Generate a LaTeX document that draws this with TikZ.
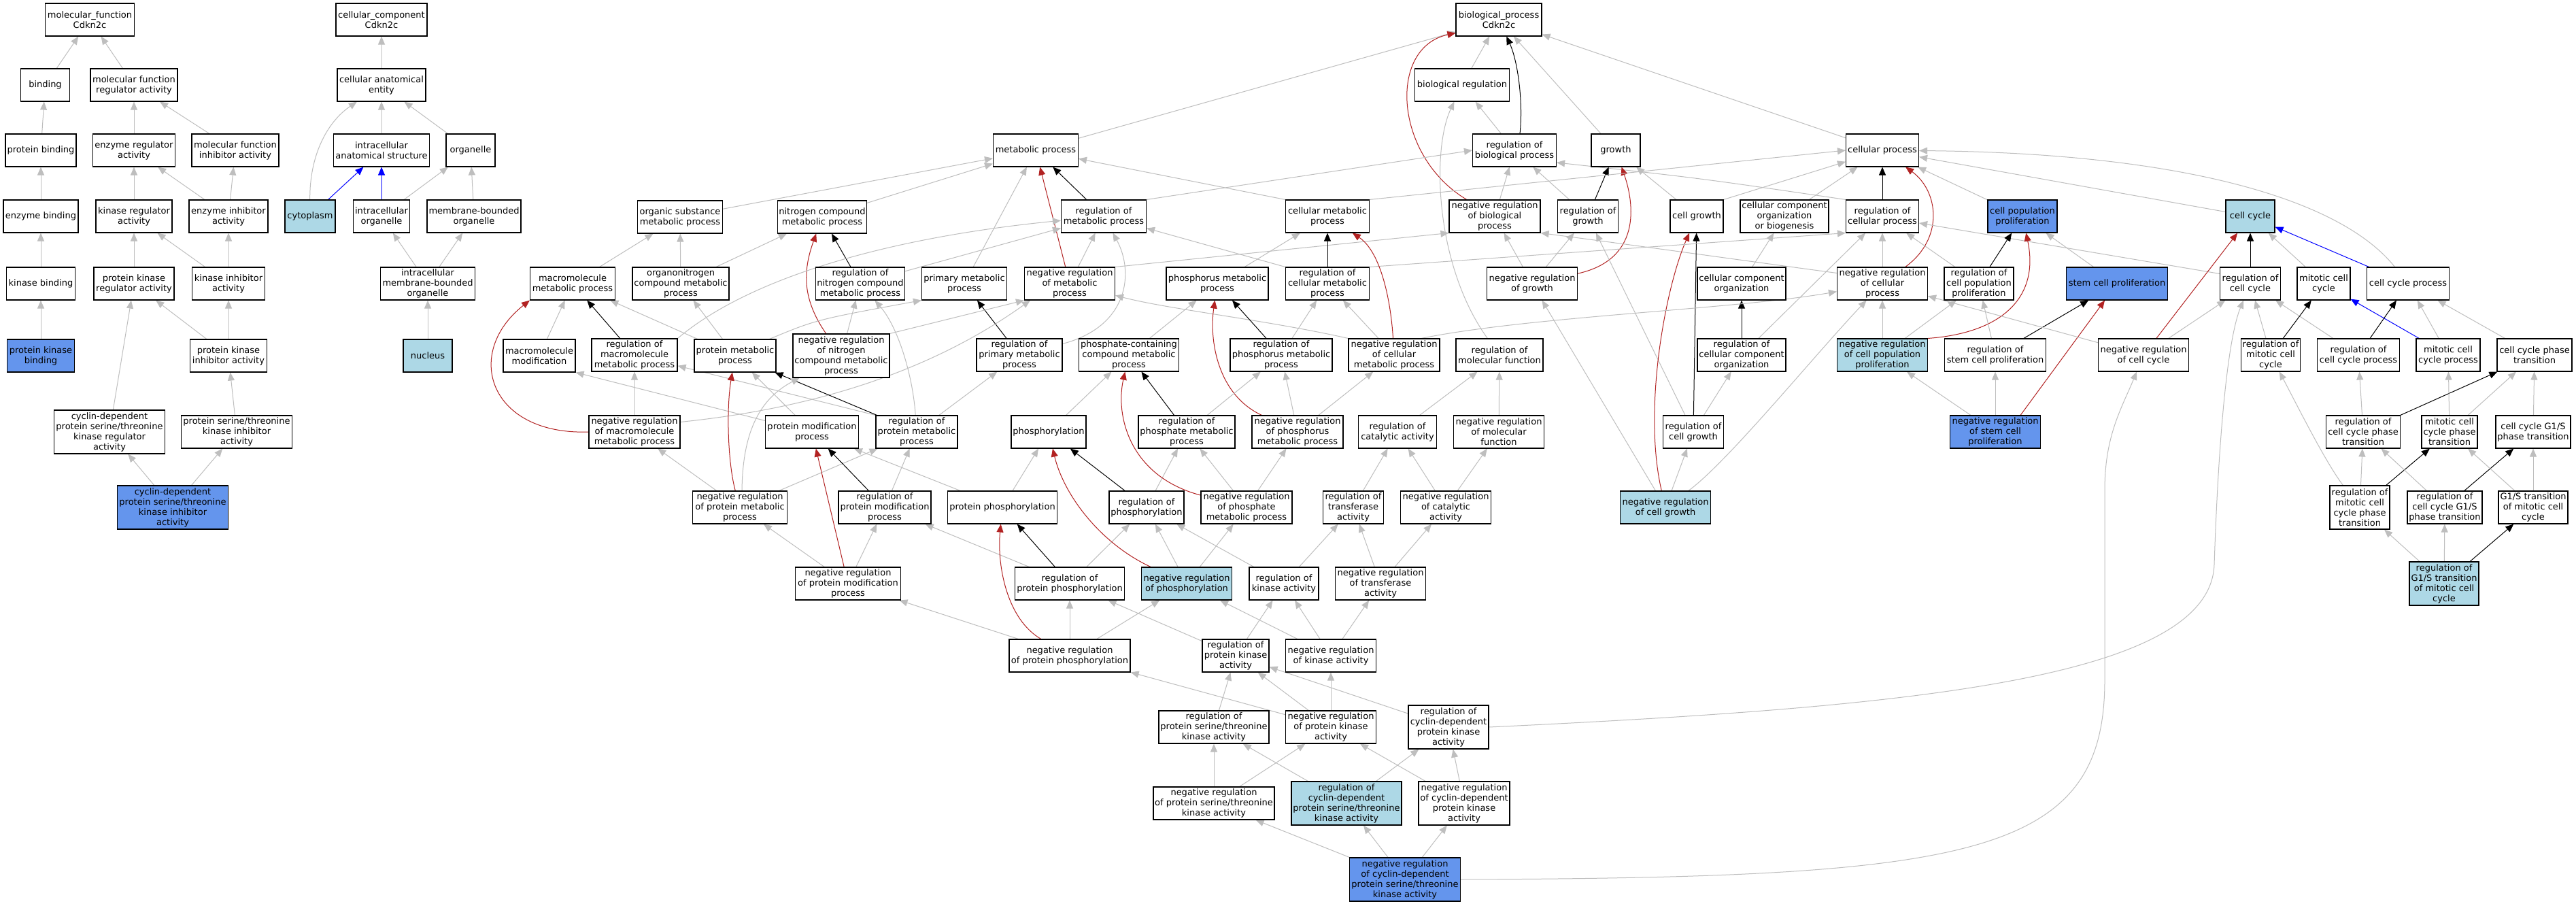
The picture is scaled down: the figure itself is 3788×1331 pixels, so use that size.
\documentclass[tikz,border=0pt]{standalone}
\usepackage{fontspec}
\setmainfont{DejaVu Sans}
\usetikzlibrary{arrows.meta,calc,backgrounds}
\definecolor{lbC}{HTML}{ADD8E6}
\definecolor{cbC}{HTML}{6495ED}
\definecolor{greyC}{HTML}{BEBEBE}
\definecolor{redC}{HTML}{B22222}
\definecolor{blueC}{HTML}{0000FF}
\newcommand\gofont{\fontsize{13pt}{15pt}\selectfont}
\tikzset{
  gobox/.style={draw=black, line width=1.1pt, inner xsep=1pt, inner ysep=1pt, minimum height=48pt, align=center, font=\gofont, fill=white},
  tall/.style={minimum height=64pt},
  lb/.style={fill=lbC},
  cb/.style={fill=cbC},
  edgebase/.style={line width=1pt, -{Triangle[length=12pt,width=10pt]}},
  ge/.style={edgebase, draw=greyC},
  bk/.style={edgebase, draw=black},
  rd/.style={edgebase, draw=redC},
  bl/.style={edgebase, draw=blueC}
}
\begin{document}
\begin{tikzpicture}[x=1pt,y=-1pt]
\useasboundingbox (0,0) rectangle (3788,1331);
% ---------------- molecular function ----------------
\node[gobox, minimum width=131pt] (mfroot) at (132,29) {molecular\_function\\Cdkn2c};
\node[gobox, minimum width=72pt] (binding) at (66.5,125) {binding};
\node[gobox, minimum width=128pt] (mfreg) at (197,125) {molecular function\\regulator activity};
\node[gobox, minimum width=104pt] (protbind) at (60,221) {protein binding};
\node[gobox, minimum width=121pt] (enzreg) at (197,221) {enzyme regulator\\activity};
\node[gobox, minimum width=128pt] (mfinh) at (346,221) {molecular function\\inhibitor activity};
\node[gobox, minimum width=110pt] (enzbind) at (60,318) {enzyme binding};
\node[gobox, minimum width=112pt] (kinreg) at (197,318) {kinase regulator\\activity};
\node[gobox, minimum width=116pt] (enzinh) at (336,318) {enzyme inhibitor\\activity};
\node[gobox, minimum width=101pt] (kinbind) at (60,417) {kinase binding};
\node[gobox, minimum width=118pt] (pkreg) at (197,417) {protein kinase\\regulator activity};
\node[gobox, minimum width=107pt] (kininh) at (336,417) {kinase inhibitor\\activity};
\node[gobox, cb, minimum width=99pt] (pkbind) at (60,523) {protein kinase\\binding};
\node[gobox, minimum width=113pt] (pkinh) at (336,523) {protein kinase\\inhibitor activity};
\node[gobox, tall, minimum width=163pt] (cdkreg) at (161,635) {cyclin-dependent\\protein serine/threonine\\kinase regulator\\activity};
\node[gobox, minimum width=163pt] (pstkinh) at (348,635) {protein serine/threonine\\kinase inhibitor\\activity};
\node[gobox, tall, cb, minimum width=163pt] (cdkinh) at (254,746) {cyclin-dependent\\protein serine/threonine\\kinase inhibitor\\activity};
% ---------------- cellular component ----------------
\node[gobox, minimum width=134pt] (ccroot) at (561,29) {cellular\_component\\Cdkn2c};
\node[gobox, minimum width=130pt] (cae) at (561,125) {cellular anatomical\\entity};
\node[gobox, minimum width=141pt] (ias) at (561,221) {intracellular\\anatomical structure};
\node[gobox, minimum width=72pt] (organelle) at (692,221) {organelle};
\node[gobox, lb, minimum width=74pt] (cytoplasm) at (456,318) {cytoplasm};
\node[gobox, minimum width=83pt] (intorg) at (561,318) {intracellular\\organelle};
\node[gobox, minimum width=138pt] (mbo) at (697,318) {membrane-bounded\\organelle};
\node[gobox, minimum width=139pt] (imbo) at (629,417) {intracellular\\membrane-bounded\\organelle};
\node[gobox, lb, minimum width=72pt] (nucleus) at (629,523) {nucleus};
% ---------------- biological process ----------------
\node[gobox, minimum width=126pt] (bproot) at (2204,29) {biological\_process\\Cdkn2c};
\node[gobox, minimum width=139pt] (bioreg) at (2150,125) {biological regulation};
\node[gobox, minimum width=125pt] (mp) at (1523,221) {metabolic process};
\node[gobox, minimum width=123pt] (rbp) at (2227,221) {regulation of\\biological process};
\node[gobox, minimum width=72pt] (growth) at (2376,221) {growth};
\node[gobox, minimum width=107pt] (cp) at (2768,221) {cellular process};
\node[gobox, minimum width=125pt] (osmp) at (1000,319) {organic substance\\metabolic process};
\node[gobox, minimum width=131pt] (ncmp) at (1209,319) {nitrogen compound\\metabolic process};
\node[gobox, minimum width=125pt] (rmp) at (1623,318) {regulation of\\metabolic process};
\node[gobox, minimum width=123pt] (cmp) at (1952,318) {cellular metabolic\\process};
\node[gobox, minimum width=134pt] (nrbp) at (2198,318) {negative regulation\\of biological\\process};
\node[gobox, minimum width=89pt] (rg) at (2335,318) {regulation of\\growth};
\node[gobox, minimum width=78pt] (cg) at (2495,318) {cell growth};
\node[gobox, minimum width=130pt] (ccob) at (2624,318) {cellular component\\organization\\or biogenesis};
\node[gobox, minimum width=107pt] (rcp) at (2768,318) {regulation of\\cellular process};
\node[gobox, cb, minimum width=102pt] (cpp) at (2974,318) {cell population\\proliferation};
\node[gobox, lb, minimum width=72pt] (ccyc) at (3309,318) {cell cycle};
\node[gobox, minimum width=125pt] (mmp) at (842,417) {macromolecule\\metabolic process};
\node[gobox, minimum width=142pt] (oncmp) at (1001,417) {organonitrogen\\compound metabolic\\process};
\node[gobox, minimum width=131pt] (rncmp) at (1265,417) {regulation of\\nitrogen compound\\metabolic process};
\node[gobox, minimum width=125pt] (pmp) at (1418,417) {primary metabolic\\process};
\node[gobox, minimum width=133pt] (nrmp) at (1573,417) {negative regulation\\of metabolic\\process};
\node[gobox, minimum width=150pt] (phmp) at (1790,417) {phosphorus metabolic\\process};
\node[gobox, minimum width=123pt] (rcmp) at (1952,417) {regulation of\\cellular metabolic\\process};
\node[gobox, minimum width=133pt] (nrg) at (2253,417) {negative regulation\\of growth};
\node[gobox, minimum width=130pt] (cco) at (2561,417) {cellular component\\organization};
\node[gobox, minimum width=133pt] (nrcp) at (2768,417) {negative regulation\\of cellular\\process};
\node[gobox, minimum width=102pt] (rcpp) at (2910,417) {regulation of\\cell population\\proliferation};
\node[gobox, cb, minimum width=149pt] (scp) at (3113,417) {stem cell proliferation};
\node[gobox, minimum width=89pt] (rcc) at (3309,417) {regulation of\\cell cycle};
\node[gobox, minimum width=78pt] (mcc) at (3417,417) {mitotic cell\\cycle};
\node[gobox, minimum width=121pt] (ccp) at (3541,417) {cell cycle process};
\node[gobox, minimum width=106pt] (macmod) at (793,523) {macromolecule\\modification};
\node[gobox, minimum width=126pt] (rmmp) at (933,522) {regulation of\\macromolecule\\metabolic process};
\node[gobox, minimum width=120pt] (prmp) at (1081,523) {protein metabolic\\process};
\node[gobox, tall, minimum width=142pt] (nrncmp) at (1237,523) {negative regulation\\of nitrogen\\compound metabolic\\process};
\node[gobox, minimum width=126pt] (rpmp) at (1499,522) {regulation of\\primary metabolic\\process};
\node[gobox, minimum width=147pt] (pccmp) at (1660,522) {phosphate-containing\\compound metabolic\\process};
\node[gobox, minimum width=150pt] (rphmp) at (1884,522) {regulation of\\phosphorus metabolic\\process};
\node[gobox, minimum width=134pt] (nrcmp) at (2050,522) {negative regulation\\of cellular\\metabolic process};
\node[gobox, minimum width=128pt] (rmf) at (2205,522) {regulation of\\molecular function};
\node[gobox, minimum width=130pt] (rcco) at (2561,522) {regulation of\\cellular component\\organization};
\node[gobox, lb, minimum width=133pt] (nrcpp) at (2768,522) {negative regulation\\of cell population\\proliferation};
\node[gobox, minimum width=149pt] (rscp) at (2934,522) {regulation of\\stem cell proliferation};
\node[gobox, minimum width=133pt] (nrcc) at (3152,522) {negative regulation\\of cell cycle};
\node[gobox, minimum width=87pt] (rmcc) at (3339,522) {regulation of\\mitotic cell\\cycle};
\node[gobox, minimum width=121pt] (rccp) at (3468,522) {regulation of\\cell cycle process};
\node[gobox, minimum width=94pt] (mccp) at (3600,522) {mitotic cell\\cycle process};
\node[gobox, minimum width=110pt] (ccpt) at (3727,522) {cell cycle phase\\transition};
\node[gobox, minimum width=134pt] (nrmmp) at (933,635) {negative regulation\\of macromolecule\\metabolic process};
\node[gobox, minimum width=137pt] (pmop) at (1194,635) {protein modification\\process};
\node[gobox, minimum width=120pt] (rprmp) at (1348,635) {regulation of\\protein metabolic\\process};
\node[gobox, minimum width=110pt] (phos) at (1542,635) {phosphorylation};
\node[gobox, minimum width=142pt] (rpatemp) at (1745,635) {regulation of\\phosphate metabolic\\process};
\node[gobox, minimum width=134pt] (nrphmp) at (1908,635) {negative regulation\\of phosphorus\\metabolic process};
\node[gobox, minimum width=115pt] (rca) at (2055,635) {regulation of\\catalytic activity};
\node[gobox, minimum width=133pt] (nrmf) at (2204,635) {negative regulation\\of molecular\\function};
\node[gobox, minimum width=89pt] (rcg) at (2490,635) {regulation of\\cell growth};
\node[gobox, cb, minimum width=133pt] (nrscp) at (2934,635) {negative regulation\\of stem cell\\proliferation};
\node[gobox, minimum width=109pt] (rccpt) at (3475,635) {regulation of\\cell cycle phase\\transition};
\node[gobox, minimum width=82pt] (mccpt) at (3602,635) {mitotic cell\\cycle phase\\transition};
\node[gobox, minimum width=110pt] (ccgs) at (3725,635) {cell cycle G1/S\\phase transition};
\node[gobox, minimum width=139pt] (nrprmp) at (1088,746) {negative regulation\\of protein metabolic\\process};
\node[gobox, minimum width=136pt] (rpmop) at (1301,746) {regulation of\\protein modification\\process};
\node[gobox, minimum width=161pt] (pp) at (1474,746) {protein phosphorylation};
\node[gobox, minimum width=110pt] (rphos) at (1686,746) {regulation of\\phosphorylation};
\node[gobox, minimum width=134pt] (nrpatemp) at (1833,746) {negative regulation\\of phosphate\\metabolic process};
\node[gobox, minimum width=89pt] (rta) at (1990,746) {regulation of\\transferase\\activity};
\node[gobox, minimum width=133pt] (nrca) at (2126,746) {negative regulation\\of catalytic\\activity};
\node[gobox, lb, minimum width=133pt] (nrcg) at (2449,746) {negative regulation\\of cell growth};
\node[gobox, tall, minimum width=88pt] (rmccpt) at (3470,746) {regulation of\\mitotic cell\\cycle phase\\transition};
\node[gobox, minimum width=110pt] (rccgs) at (3595,746) {regulation of\\cell cycle G1/S\\phase transition};
\node[gobox, minimum width=102pt] (gsmcc) at (3725,746) {G1/S transition\\of mitotic cell\\cycle};
\node[gobox, minimum width=155pt] (nrpmop) at (1247,858) {negative regulation\\of protein modification\\process};
\node[gobox, minimum width=161pt] (rpp) at (1573,858) {regulation of\\protein phosphorylation};
\node[gobox, lb, minimum width=133pt] (nrphos) at (1745,858) {negative regulation\\of phosphorylation};
\node[gobox, minimum width=102pt] (rka) at (1888,858) {regulation of\\kinase activity};
\node[gobox, minimum width=133pt] (nrta) at (2030,858) {negative regulation\\of transferase\\activity};
\node[gobox, tall, lb, minimum width=102pt] (rgs) at (3594,858) {regulation of\\G1/S transition\\of mitotic cell\\cycle};
\node[gobox, minimum width=178pt] (nrpp) at (1573,964) {negative regulation\\of protein phosphorylation};
\node[gobox, minimum width=98pt] (rpka) at (1817,964) {regulation of\\protein kinase\\activity};
\node[gobox, minimum width=133pt] (nrka) at (1957,964) {negative regulation\\of kinase activity};
\node[gobox, minimum width=162pt] (rpstka) at (1785,1069) {regulation of\\protein serine/threonine\\kinase activity};
\node[gobox, minimum width=133pt] (nrpka) at (1957,1069) {negative regulation\\of protein kinase\\activity};
\node[gobox, tall, minimum width=118pt] (rcdkpka) at (2130,1069) {regulation of\\cyclin-dependent\\protein kinase\\activity};
\node[gobox, minimum width=178pt] (nrpstka) at (1785,1181) {negative regulation\\of protein serine/threonine\\kinase activity};
\node[gobox, tall, lb, minimum width=162pt] (rcdkpstka) at (1980,1181) {regulation of\\cyclin-dependent\\protein serine/threonine\\kinase activity};
\node[gobox, tall, minimum width=134pt] (nrcdkpka) at (2153,1181) {negative regulation\\of cyclin-dependent\\protein kinase\\activity};
\node[gobox, tall, cb, minimum width=163pt] (nrcdkpstka) at (2066,1293) {negative regulation\\of cyclin-dependent\\protein serine/threonine\\kinase activity};

\begin{pgfonlayer}{background}
\fill[white] (0,0) rectangle (3788,1331);
% MF edges
\draw[ge] (binding) -- (mfroot);
\draw[ge] (mfreg) -- (mfroot);
\draw[ge] (protbind) -- (binding);
\draw[ge] (enzreg) -- (mfreg);
\draw[ge] (mfinh) -- (mfreg);
\draw[ge] (enzbind) -- (protbind);
\draw[ge] (kinreg) -- (enzreg);
\draw[ge] (enzinh) -- (enzreg);
\draw[ge] (enzinh) -- (mfinh);
\draw[ge] (kinbind) -- (enzbind);
\draw[ge] (pkreg) -- (kinreg);
\draw[ge] (kininh) -- (kinreg);
\draw[ge] (kininh) -- (enzinh);
\draw[ge] (pkbind) -- (kinbind);
\draw[ge] (pkinh) -- (pkreg);
\draw[ge] (pkinh) -- (kininh);
\draw[ge] (cdkreg) -- (pkreg);
\draw[ge] (pstkinh) -- (pkinh);
\draw[ge] (cdkinh) -- (cdkreg);
\draw[ge] (cdkinh) -- (pstkinh);
% CC edges
\draw[ge] (cae) -- (ccroot);
\draw[ge] (cytoplasm) .. controls (455,230) and (480,180) .. (cae);
\draw[ge] (ias) -- (cae);
\draw[ge] (organelle) -- (cae);
\draw[bl] (cytoplasm) -- (ias);
\draw[bl] (intorg) -- (ias);
\draw[ge] (intorg) -- (organelle);
\draw[ge] (mbo) -- (organelle);
\draw[ge] (imbo) -- (intorg);
\draw[ge] (imbo) -- (mbo);
\draw[ge] (nucleus) -- (imbo);
% BP top
\draw[ge] (mp) -- (bproot);
\draw[ge] (bioreg) -- (bproot);
\draw[bk] ($(rbp.north)+(8,0)$) .. controls (2240,150) and (2232,90) .. (bproot);
\draw[ge] (growth) -- (bproot);
\draw[ge] (cp) -- (bproot);
\draw[rd] (nrbp) .. controls (2050,230) and (2040,70) .. ($(bproot.south west)+(0,-5)$);
\draw[ge] (rbp) -- (bioreg);
\draw[ge] (rmf) .. controls (2110,390) and (2105,220) .. (bioreg);
\draw[ge] (nrbp) -- (rbp);
\draw[ge] (rg) -- (rbp);
\draw[ge] (rcp.north west) .. controls (2500,262) .. ($(rbp.east)+(0,18)$);
\draw[ge] (rmp.north east) -- (rbp.west);
\draw[bk] (rg) -- (growth);
\draw[rd] (nrg) .. controls (2420,380) and (2400,290) .. (growth);
\draw[ge] (cg) -- (growth);
\draw[ge] (cmp.north east) -- (cp.west);
\draw[ge] (cg.north east) -- (cp);
\draw[ge] (ccob) -- (cp);
\draw[bk] (rcp) -- (cp);
\draw[rd] (nrcp) .. controls (2860,350) and (2850,280) .. (cp);
\draw[ge] (cpp) -- (cp);
\draw[ge] (ccp) .. controls (3440,290) and (3200,225) .. (cp);
\draw[ge] (ccyc) -- (cp);
% metabolic process
\draw[ge] (osmp) -- (mp);
\draw[ge] (ncmp) -- (mp);
\draw[ge] (pmp) -- (mp);
\draw[rd] (nrmp) -- (mp);
\draw[bk] (rmp) -- (mp);
\draw[ge] (cmp.north west) -- (mp);
% NRBP, growth etc
\draw[ge] (nrmp.north east) -- (nrbp.south west);
\draw[ge] ($(nrcp.north west)+(0,9)$) .. controls (2600,388) and (2400,360) .. (nrbp.south east);
\draw[ge] (nrg) -- (nrbp);
\draw[ge] (nrg) -- (rg);
\draw[ge] (rcg) -- (rg);
\draw[rd] (nrcg) .. controls (2415,600) and (2450,420) .. (cg);
\draw[bk] (rcg) -- (cg);
\draw[ge] (cco) -- (ccob);
\draw[bk] (rcco) -- (cco);
\draw[ge] (rcmp.north east) -- (rcp.south west);
\draw[ge] (rcco) -- (rcp);
\draw[ge] (nrcp) -- (rcp);
\draw[ge] (rcpp) -- (rcp);
\draw[ge] ($(rcc.north west)+(0,10)$) -- ($(rcp.east)+(0,10)$);
\draw[bk] (rcpp) -- (cpp);
\draw[rd] (nrcpp.north east) .. controls (2940,490) and (3000,440) .. (cpp);
\draw[ge] (scp) -- (cpp);
\draw[bk] (rscp) -- (scp);
\draw[rd] ($(nrscp.north east)+(-30,0)$) -- (scp);
\draw[ge] (nrscp) -- (rscp);
\draw[ge] (nrcpp) -- (rcpp);
\draw[ge] (rscp) -- (rcpp);
\draw[ge] (nrscp) -- (nrcpp);
\draw[ge] ($(nrcmp.north)+(40,0)$) .. controls (2250,465) and (2550,455) .. (nrcp);
\draw[ge] (nrcg) .. controls (2540,680) and (2670,520) .. (nrcp);
\draw[ge] (nrcpp) -- (nrcp);
\draw[ge] (nrcc) -- (nrcp);
% cell cycle
\draw[rd] (nrcc) -- (ccyc);
\draw[bk] (rcc) -- (ccyc);
\draw[ge] (mcc) -- (ccyc);
\draw[bl] (ccp) -- (ccyc);
\draw[ge] (nrcc) -- (rcc);
\draw[ge] (rcdkpka.east) .. controls (2800,1040) and (3250,1000) .. (3256,830) .. controls (3262,650) and (3275,500) .. (rcc);
\draw[ge] (rmcc) -- (rcc);
\draw[ge] (rccp) -- (rcc);
\draw[bk] (rmcc) -- (mcc);
\draw[bl] (mccp) -- (mcc);
\draw[bk] (rccp) -- (ccp);
\draw[ge] (mccp) -- (ccp);
\draw[ge] (ccpt) -- (ccp);
\draw[ge] (rccpt) -- (rccp);
\draw[bk] (rccpt) -- (ccpt);
\draw[ge] (mccpt) -- (mccp);
\draw[ge] (mccpt) -- (ccpt);
\draw[ge] (ccgs) -- (ccpt);
\draw[ge] (rmccpt) .. controls (3420,680) and (3380,600) .. (rmcc);
\draw[ge] (rmccpt) -- (rccpt);
\draw[bk] (rmccpt) -- (mccpt);
\draw[ge] (rccgs) -- (rccpt);
\draw[bk] (rccgs) -- (ccgs);
\draw[ge] (gsmcc) -- (mccpt);
\draw[ge] (gsmcc) -- (ccgs);
\draw[ge] (rgs) -- (rmccpt);
\draw[ge] (rgs) -- (rccgs);
\draw[bk] (rgs) -- (gsmcc);
% metabolic lower
\draw[ge] (mmp) -- (osmp);
\draw[ge] (oncmp) -- (osmp);
\draw[ge] (oncmp) -- (ncmp);
\draw[rd] (nrncmp) .. controls (1180,440) and (1180,400) .. (ncmp);
\draw[bk] (rncmp) -- (ncmp);
\draw[rd] (nrmmp.west) .. controls (720,640) and (680,520) .. (mmp.south west);
\draw[ge] (macmod) -- (mmp);
\draw[bk] (rmmp) -- (mmp);
\draw[ge] (prmp) -- (mmp);
\draw[ge] (prmp) -- (oncmp);
\draw[ge] (nrncmp) -- (rncmp);
\draw[ge] (rprmp) .. controls (1342,550) and (1320,480) .. (rncmp);
\draw[ge] ($(prmp.north east)+(-10,0)$) .. controls (1200,470) .. (pmp.south west);
\draw[bk] (rpmp) -- (pmp);
\draw[ge] (rmmp.north east) .. controls (1100,410) and (1300,350) .. (rmp);
\draw[ge] (rncmp) -- (rmp);
\draw[ge] (nrmp) -- (rmp);
\draw[ge] (rpmp) .. controls (1660,480) and (1668,400) .. (rmp);
\draw[ge] (rcmp.north west) -- (rmp);
\draw[ge] (phmp) -- (cmp);
\draw[bk] (rcmp) -- (cmp);
\draw[rd] (nrcmp) .. controls (2045,440) and (2030,370) .. (cmp);
\draw[ge] (nrncmp.north east) -- (nrmp.south west);
\draw[ge] ($(nrmmp.north east)+(0,10)$) .. controls (1200,600) and (1370,545) .. ($(nrmp.south)+(-58,0)$);
\draw[ge] (nrcmp.north west) .. controls (1860,470) and (1720,455) .. (nrmp);
\draw[ge] (pccmp) -- (phmp);
\draw[rd] (nrphmp) .. controls (1790,580) and (1778,500) .. (phmp);
\draw[bk] (rphmp) -- (phmp);
\draw[ge] (rphmp) -- (rcmp);
\draw[ge] (nrcmp) -- (rcmp);
\draw[ge] (rca) -- (rmf);
\draw[ge] (nrmf) -- (rmf);
\draw[ge] (nrmmp) -- (rmmp);
\draw[ge] (rprmp.north west) -- (rmmp);
\draw[ge] ($(pmop.north west)+(0,8)$) -- (macmod.south east);
\draw[ge] (pmop) -- (prmp);
\draw[bk] (rprmp) -- (prmp);
\draw[ge] (rprmp) -- (rpmp);
\draw[ge] (phos) -- (pccmp);
\draw[bk] (rpatemp) -- (pccmp);
\draw[ge] (rpatemp) -- (rphmp);
\draw[ge] (nrphmp) -- (rphmp);
\draw[ge] (nrphmp) -- (nrcmp);
\draw[rd] (nrprmp) .. controls (1070,680) and (1068,600) .. (prmp);
\draw[ge] ($(nrprmp.north)+(3,0)$) .. controls (1092,630) and (1120,585) .. (nrncmp);
\draw[ge] (nrprmp) -- (nrmmp);
\draw[ge] (nrprmp) -- (rprmp);
\draw[bk] (rpmop) -- (pmop);
\draw[ge] (rpmop) -- (rprmp);
\draw[ge] (pp) -- (pmop);
\draw[ge] (pp) -- (phos);
\draw[bk] (rphos) -- (phos);
\draw[ge] (rphos) -- (rpatemp);
\draw[ge] (nrpatemp) -- (rpatemp);
\draw[ge] (nrpatemp) -- (nrphmp);
\draw[rd] (nrpatemp) .. controls (1660,700) and (1640,610) .. (pccmp);
\draw[ge] (rta) -- (rca);
\draw[ge] (nrca) -- (rca);
\draw[ge] (nrca) -- (nrmf);
\draw[ge] (nrcg) -- (rcg);
\draw[ge] (rcg) -- (rcco);
\draw[ge] (nrcg) -- (nrg);
\draw[rd] (nrpmop) -- (pmop);
\draw[ge] (nrpmop) -- (nrprmp);
\draw[ge] (nrpmop) -- (rpmop);
\draw[bk] (rpp) -- (pp);
\draw[ge] (rpp) -- (rpmop);
\draw[ge] (rpp) -- (rphos);
\draw[rd] (nrphos) .. controls (1620,800) and (1565,730) .. (phos);
\draw[ge] (nrphos) -- (rphos);
\draw[ge] (nrphos) -- (nrpatemp);
\draw[ge] (rka) -- (rphos);
\draw[ge] (rka) -- (rta);
\draw[ge] (nrta) -- (rta);
\draw[ge] (nrta) -- (nrca);
\draw[rd] (nrpp) .. controls (1480,910) and (1466,830) .. (pp);
\draw[ge] (nrpp) -- (rpp);
\draw[ge] (nrpp) -- (nrpmop);
\draw[ge] (nrpp) -- (nrphos);
\draw[ge] (rpka) -- (rpp);
\draw[ge] (rpka) -- (rka);
\draw[ge] (nrka) -- (rka);
\draw[ge] (nrka) -- (nrphos);
\draw[ge] (nrka) -- (nrta);
\draw[ge] (rpstka) -- (rpka);
\draw[ge] (nrpka) -- (rpka);
\draw[ge] (nrpka) -- (nrka);
\draw[ge] (nrpka) -- (nrpp);
\draw[ge] (rcdkpka) -- (rpka);
\draw[ge] (nrpstka) -- (rpstka);
\draw[ge] (nrpstka) -- (nrpka);
\draw[ge] (rcdkpstka) -- (rpstka);
\draw[ge] (rcdkpstka) -- (rcdkpka);
\draw[ge] (nrcdkpka) -- (nrpka);
\draw[ge] (nrcdkpka) -- (rcdkpka);
\draw[ge] (nrcdkpstka) -- (nrpstka);
\draw[ge] (nrcdkpstka) -- (rcdkpstka);
\draw[ge] (nrcdkpstka) -- (nrcdkpka);
\draw[ge] (nrcdkpstka.east) .. controls (2900,1290) and (3095,1260) .. (3095,1000) -- (3095,720) .. controls (3095,640) and (3120,600) .. (nrcc);
\end{pgfonlayer}
\end{tikzpicture}
\end{document}
